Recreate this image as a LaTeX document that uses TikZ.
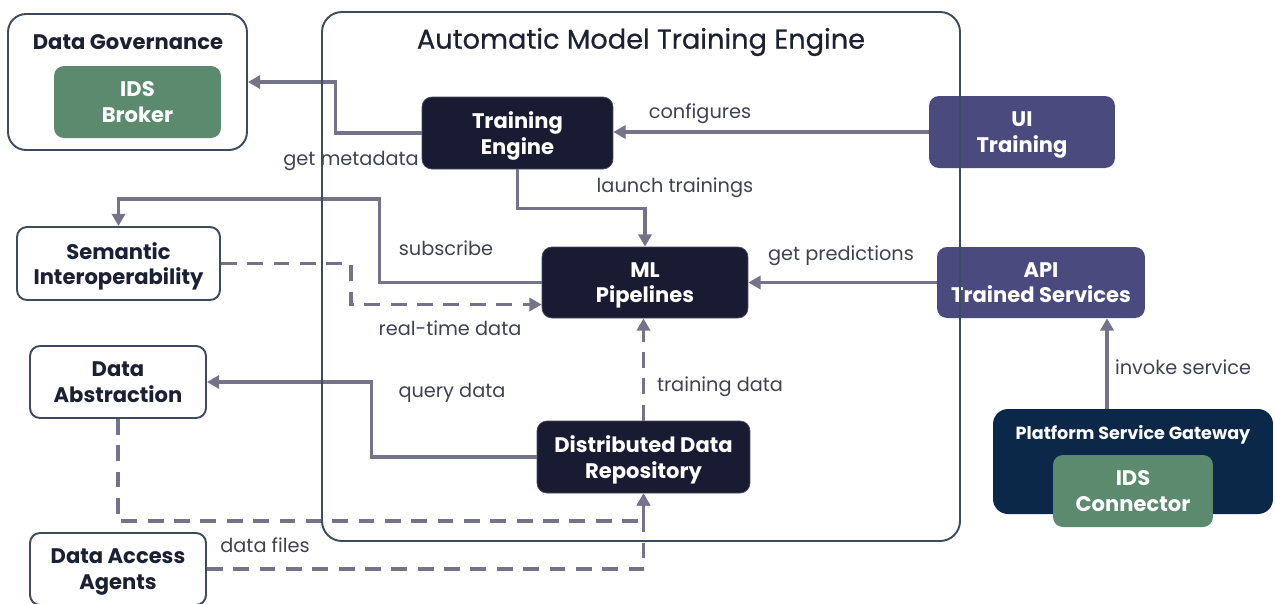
\documentclass[tikz,border=0pt]{standalone}
\usepackage{fontspec}
\setmainfont{Poppins}
\newfontfamily\titlefont{Poppins}[FakeBold=0.6]
\usetikzlibrary{arrows.meta,calc}
\definecolor{navy}{HTML}{191B32}
\definecolor{violet}{HTML}{4B4A7E}
\definecolor{sage}{HTML}{5B8A6F}
\definecolor{gatewayblue}{HTML}{0B2848}
\definecolor{edgeline}{HTML}{3E4B5C}
\definecolor{flow}{HTML}{75738A}
\definecolor{ink}{HTML}{1C2033}
\tikzset{
  box/.style={rounded corners=0.2cm, inner sep=0pt, align=center, text depth=0pt,
    font=\fontsize{12}{14.5}\selectfont\bfseries},
  darkbox/.style={box, fill=navy, draw=navy!80!white, text=white},
  violetbox/.style={box, fill=violet, text=white},
  greenbox/.style={box, fill=sage, text=white},
  whitebox/.style={box, fill=white, draw=edgeline, line width=1.1pt, text=ink},
  flowline/.style={draw=flow, line width=1.9pt},
  arr/.style={flowline, -{Triangle[length=7pt,width=7.5pt]}},
  dasharr/.style={arr, dash pattern=on 9pt off 6pt},
  lbl/.style={font=\fontsize{11}{13}\selectfont, text=ink!85!white, inner sep=1pt},
}
\begin{document}
\begin{tikzpicture}[x=0.02cm, y=-0.02cm]
\useasboundingbox (0,0) rectangle (1275,603);
\clip (0,0) rectangle (1275,603);

% outer groups
\node[whitebox, rounded corners=0.36cm, minimum width=4.78cm, minimum height=2.72cm] (dg) at (127.5,82) {};
\node[box, text=ink] (dgtitle) at (128,42) {Data Governance};
\node[greenbox, minimum width=3.34cm, minimum height=1.44cm] (broker) at (137.5,102) {IDS\\Broker};

\node[box, fill=gatewayblue, rounded corners=0.3cm, minimum width=5.6cm, minimum height=2.1cm] (gw) at (1133,461.5) {};
\node[box, text=white, font=\fontsize{10}{12}\selectfont\bfseries] (gwtitle) at (1133,432) {Platform Service Gateway};
\node[greenbox, minimum width=3.2cm, minimum height=1.44cm] (idsc) at (1133,491) {IDS\\Connector};

% engine components
\node[darkbox, minimum width=3.82cm, minimum height=1.44cm] (te) at (517.5,133) {Training\\Engine};
\node[violetbox, minimum width=3.72cm, minimum height=1.44cm] (ui) at (1022,132) {UI\\Training};
\node[darkbox, minimum width=4.12cm, minimum height=1.42cm] (ml) at (645,282.5) {ML\\Pipelines};
\node[violetbox, minimum width=4.16cm, minimum height=1.42cm] (api) at (1041,282.5) {API\\Trained Services};
\node[darkbox, minimum width=4.26cm, minimum height=1.44cm] (ddr) at (643.5,457) {Distributed Data\\Repository};

% external components
\node[whitebox, minimum width=4.06cm, minimum height=1.46cm] (sem) at (118.5,263.5) {Semantic\\Interoperability};
\node[whitebox, minimum width=3.52cm, minimum height=1.44cm] (dabs) at (118,382) {Data\\Abstraction};
\node[whitebox, minimum width=3.52cm, minimum height=1.44cm] (daa) at (118,569) {Data Access\\Agents};

% connectors
\draw[arr] (te.west) -- ++(-86,0) |- (dg.east);
\draw[arr] (ui.west) -- (ui.west -| te.east);
\draw[arr] (te.south) -- ++(0,39) -| (ml.north);
\draw[arr] (ml.west) -- ++(-162,0) |- ($(sem.north)+(0,-27)$) -- (sem.north);
\draw[dasharr] (sem.east) -- ++(130,0) |- ($(ml.west)+(0,22)$);
\draw[arr] (api.west) -- (api.west -| ml.east);
\draw[arr] (ddr.west) -- ++(-165,0) |- (dabs.east);
\draw[dasharr] (ddr.north) -- (ddr.north |- ml.south);
\draw[dasharr] (dabs.south) -- ++(0,102) -| (ddr.south);
\draw[dasharr] (daa.east) -- ++(437,0) -| (ddr.south);
\coordinate (gwport) at ($(gw.north)+(-26,0)$);
\draw[arr] (gwport) -- (gwport |- api.south);

% connector labels
\node[lbl] (l1) at (351,161) {get metadata};
\node[lbl] (l2) at (700,114) {configures};
\node[lbl] (l3) at (675,188) {launch trainings};
\node[lbl] (l4) at (446,248) {subscribe};
\node[lbl] (l5) at (450,328) {real-time data};
\node[lbl] (l6) at (841,256) {get predictions};
\node[lbl] (l7) at (452,393) {query data};
\node[lbl] (l8) at (720,387) {training data};
\node[lbl] (l9) at (265,545) {data files};
\node[lbl] (l10) at (1183,367) {invoke service};

% engine frame
\draw[edgeline, line width=1.1pt, rounded corners=0.4cm] (322,12) rectangle (960,541);
\node[text=ink, font=\fontsize{15.5}{18}\selectfont\titlefont, inner sep=0pt] (title) at (641,42) {Automatic Model Training Engine};
\end{tikzpicture}
\end{document}
